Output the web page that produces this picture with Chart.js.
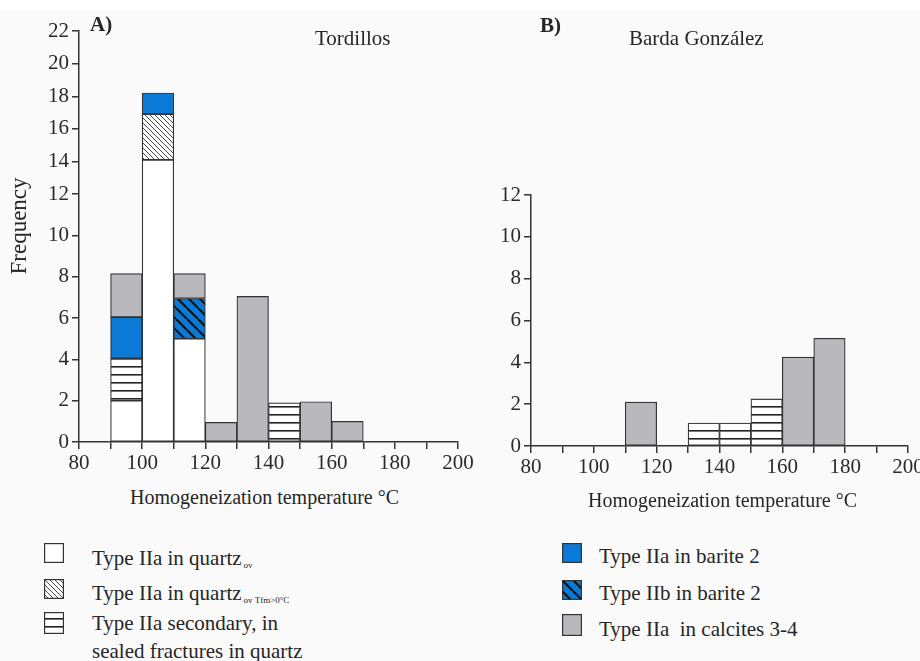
<!DOCTYPE html>
<html>
<head>
<meta charset="utf-8">
<script src="https://cdn.jsdelivr.net/npm/chart.js@4.4.1/dist/chart.umd.min.js"></script>
<style>
  body { margin: 0; background: #fafafa; overflow: hidden; }
  #wrap { position: relative; width: 920px; height: 661px; font-family: 'Liberation Serif', serif; color: #262626; }
  #topband { position: absolute; left: 0; top: 0; width: 920px; height: 10px; background: #fff; }
  .t { position: absolute; white-space: nowrap; line-height: 24px; }
  .sw { position: absolute; }
  sub { font-size: 9px; vertical-align: -3px; margin-left: 2px; }
</style>
</head>
<body>
<div id="wrap">
  <div id="topband"></div>
  <canvas id="chartA" width="480" height="480" style="position:absolute;left:0;top:0"></canvas>
  <canvas id="chartB" width="475" height="480" style="position:absolute;left:460px;top:0"></canvas>

  <div class="t" style="left:90px;top:12px;font-size:21px;font-weight:bold">A)</div>
  <div class="t" style="left:315px;top:26px;font-size:21px">Tordillos</div>
  <div class="t" style="left:540px;top:13px;font-size:21px;font-weight:bold">B)</div>
  <div class="t" style="left:629px;top:26px;font-size:21px">Barda González</div>

  <div class="t" style="left:19px;top:214px;font-size:23px;transform:rotate(-90deg);transform-origin:center;width:0;display:flex;justify-content:center">Frequency</div>

  <div class="t" style="left:130px;top:485px;font-size:20px">Homogeneization temperature °C</div>
  <div class="t" style="left:588px;top:488px;font-size:20px">Homogeneization temperature °C</div>

  <canvas class="sw" id="sw1" width="20" height="20" style="left:44px;top:543px"></canvas>
  <canvas class="sw" id="sw2" width="20" height="20" style="left:44px;top:579px"></canvas>
  <canvas class="sw" id="sw3" width="20" height="22" style="left:44px;top:612px"></canvas>
  <canvas class="sw" id="sw4" width="20" height="20" style="left:562px;top:543px"></canvas>
  <canvas class="sw" id="sw5" width="20" height="20" style="left:562px;top:580px"></canvas>
  <canvas class="sw" id="sw6" width="20" height="22" style="left:562px;top:614px"></canvas>

  <div class="t" style="left:92px;top:546px;font-size:21px">Type IIa in quartz<sub>ov</sub></div>
  <div class="t" style="left:92px;top:581px;font-size:21px">Type IIa in quartz<sub>ov Tfm&gt;0°C</sub></div>
  <div class="t" style="left:92px;top:611px;font-size:21px">Type IIa secondary, in</div>
  <div class="t" style="left:92px;top:639px;font-size:21px">sealed fractures in quartz</div>
  <div class="t" style="left:599px;top:544px;font-size:21px">Type IIa in barite 2</div>
  <div class="t" style="left:599px;top:581px;font-size:21px">Type IIb in barite 2</div>
  <div class="t" style="left:599px;top:617px;font-size:21px">Type IIa&nbsp; in calcites 3-4</div>
</div>

<script>
// Tordillos (A): centros dos intervalos de 10 °C
const leftBins = [95, 105, 115, 125, 135, 145, 155, 165];
const quartzOv        = [2,    14.1, 5,    null, null, null, null, null];
const quartzTfm       = [null, 2.8,  null, null, null, null, null, null];
const quartzSecondary = [2.05, null, null, null, null, 1.9,  null, null];
const bariteIIa       = [2,    1.3,  null, null, null, null, null, null];
const bariteIIb       = [null, null, 1.95, null, null, null, null, null];
const calcites        = [2.1,  null, 1.2,  0.95, 7.05, null, 1.95, 1];

// Barda González (B)
const rightBins = [115, 135, 145, 155, 165, 175];
const rightSecondary = [null, 1.1, 1.1, 2.25, null, null];
const rightCalcites  = [2.1, null, null, null, 4.25, 5.15];

const xTickStep = 10;
const xLabelStep = 20;

const FONT = 'Liberation Serif';
const INK = '#333';
const BLUE = '#0a7ad6';
const GRAY = '#b9b9bd';

// eixo y do painel A não é linear no original (parte de cima mais comprimida)
class PiecewiseScale extends Chart.LinearScale {
  static id = 'piecewise';
  static defaults = Chart.LinearScale.defaults;
  _toDecimal(v) {
    const k = this.options.knots;
    for (let i = 1; i < k.length; i++) {
      if (v <= k[i][0] || i === k.length - 1) {
        return k[i - 1][1] + (v - k[i - 1][0]) / (k[i][0] - k[i - 1][0]) * (k[i][1] - k[i - 1][1]);
      }
    }
  }
  getPixelForValue(value) {
    return value === null ? NaN : this.getPixelForDecimal(this._toDecimal(value));
  }
  getValueForPixel(pixel) {
    const d = this.getDecimalForPixel(pixel);
    const k = this.options.knots;
    for (let i = 1; i < k.length; i++) {
      if (d <= k[i][1] || i === k.length - 1) {
        return k[i - 1][0] + (d - k[i - 1][1]) / (k[i][1] - k[i - 1][1]) * (k[i][0] - k[i - 1][0]);
      }
    }
  }
}
Chart.register(PiecewiseScale);

function makePattern(kind) {
  const c = document.createElement('canvas');
  const g = c.getContext('2d');
  let s;
  if (kind === 'white') { c.width = c.height = 4; g.fillStyle = '#fff'; g.fillRect(0, 0, 4, 4); return g.createPattern(c, 'repeat'); }
  if (kind === 'blue') { c.width = c.height = 4; g.fillStyle = BLUE; g.fillRect(0, 0, 4, 4); return g.createPattern(c, 'repeat'); }
  if (kind === 'gray') { c.width = c.height = 4; g.fillStyle = GRAY; g.fillRect(0, 0, 4, 4); return g.createPattern(c, 'repeat'); }
  if (kind === 'stripes') {
    c.width = 8; c.height = 8;
    g.fillStyle = '#fff'; g.fillRect(0, 0, 8, 8);
    g.fillStyle = '#222'; g.fillRect(0, 6, 8, 1.6);
    return g.createPattern(c, 'repeat');
  }
  if (kind === 'hatch') { s = 5; g.canvas.width = g.canvas.height = s; g.fillStyle = '#fff'; g.fillRect(0, 0, s, s); g.strokeStyle = '#333'; g.lineWidth = 0.9; }
  if (kind === 'bluehatch') { s = 11; g.canvas.width = g.canvas.height = s; g.fillStyle = BLUE; g.fillRect(0, 0, s, s); g.strokeStyle = '#111'; g.lineWidth = 2.2; }
  g.beginPath();
  for (let k = -1; k <= 1; k++) {
    g.moveTo(k * s, 0);
    g.lineTo(k * s + s, s);
  }
  g.stroke();
  return g.createPattern(c, 'repeat');
}

const fills = {
  white: makePattern('white'),
  hatch: makePattern('hatch'),
  stripes: makePattern('stripes'),
  blue: makePattern('blue'),
  bluehatch: makePattern('bluehatch'),
  gray: makePattern('gray')
};

function pts(bins, values) {
  return bins.map((x, i) => ({ x: x, y: values[i] })).filter(p => p.y !== null);
}

function barSet(label, bins, values, fill) {
  return {
    label: label,
    data: pts(bins, values),
    backgroundColor: fill,
    borderColor: INK,
    borderWidth: 1.2,
    borderSkipped: false,
    barPercentage: 1,
    categoryPercentage: 1
  };
}

function xScale(height) {
  return {
    type: 'linear',
    min: 80, max: 200,
    stacked: true,
    offset: false,
    afterFit: s => { s.height = height; },
    border: { display: true, color: INK, width: 1.5 },
    grid: { display: true, drawOnChartArea: false, drawTicks: true, offset: false, tickLength: 7, color: INK, lineWidth: 1.5 },
    ticks: {
      stepSize: xTickStep, autoSkip: false, maxRotation: 0, padding: 2,
      color: '#2a2a2a', font: { family: FONT, size: 21 },
      callback: v => (v % xLabelStep === 0 ? String(v) : '')
    }
  };
}

function yTicks() {
  return {
    stepSize: 2, autoSkip: false, padding: 3,
    color: '#2a2a2a', font: { family: FONT, size: 21 }
  };
}

const commonOpts = {
  responsive: false,
  animation: false,
  devicePixelRatio: 1,
  plugins: { legend: { display: false }, tooltip: { enabled: false } }
};

new Chart(document.getElementById('chartA'), {
  type: 'bar',
  data: {
    datasets: [
      barSet('Type IIa in quartz ov', leftBins, quartzOv, fills.white),
      barSet('Type IIa in quartz ov Tfm>0°C', leftBins, quartzTfm, fills.hatch),
      barSet('Type IIa secondary, in sealed fractures in quartz', leftBins, quartzSecondary, fills.stripes),
      barSet('Type IIa in barite 2', leftBins, bariteIIa, fills.blue),
      barSet('Type IIb in barite 2', leftBins, bariteIIb, fills.bluehatch),
      barSet('Type IIa in calcites 3-4', leftBins, calcites, fills.gray)
    ]
  },
  options: Object.assign({}, commonOpts, {
    layout: { padding: { top: 31, right: 22, left: 0, bottom: 0 } },
    scales: {
      x: xScale(38),
      y: {
        type: 'piecewise',
        knots: [[0, 0], [12, 0.603], [22, 1]],
        min: 0, max: 22,
        stacked: true,
        afterFit: s => { s.width = 79; },
        border: { display: true, color: INK, width: 1.5 },
        grid: { display: true, drawOnChartArea: false, drawTicks: true, tickLength: 7, color: INK, lineWidth: 1.5 },
        ticks: yTicks()
      }
    }
  })
});

new Chart(document.getElementById('chartB'), {
  type: 'bar',
  data: {
    datasets: [
      barSet('Type IIa secondary, in sealed fractures in quartz', rightBins, rightSecondary, fills.stripes),
      barSet('Type IIa in calcites 3-4', rightBins, rightCalcites, fills.gray)
    ]
  },
  options: Object.assign({}, commonOpts, {
    layout: { padding: { top: 195, right: 27, left: 0, bottom: 0 } },
    scales: {
      x: xScale(34),
      y: {
        type: 'linear',
        min: 0, max: 12,
        stacked: true,
        afterFit: s => { s.width = 71; },
        border: { display: true, color: INK, width: 1.5 },
        grid: { display: true, drawOnChartArea: false, drawTicks: true, tickLength: 7, color: INK, lineWidth: 1.5 },
        ticks: yTicks()
      }
    }
  })
});

// amostras da legenda
const swatches = [['sw1', 'white'], ['sw2', 'hatch'], ['sw3', 'stripes'], ['sw4', 'blue'], ['sw5', 'bluehatch'], ['sw6', 'gray']];
swatches.forEach(([id, kind]) => {
  const c = document.getElementById(id);
  const g = c.getContext('2d');
  g.fillStyle = fills[kind];
  g.fillRect(0, 0, c.width, c.height);
  g.strokeStyle = INK;
  g.lineWidth = 1.2;
  g.strokeRect(0.6, 0.6, c.width - 1.2, c.height - 1.2);
});
</script>
</body>
</html>
